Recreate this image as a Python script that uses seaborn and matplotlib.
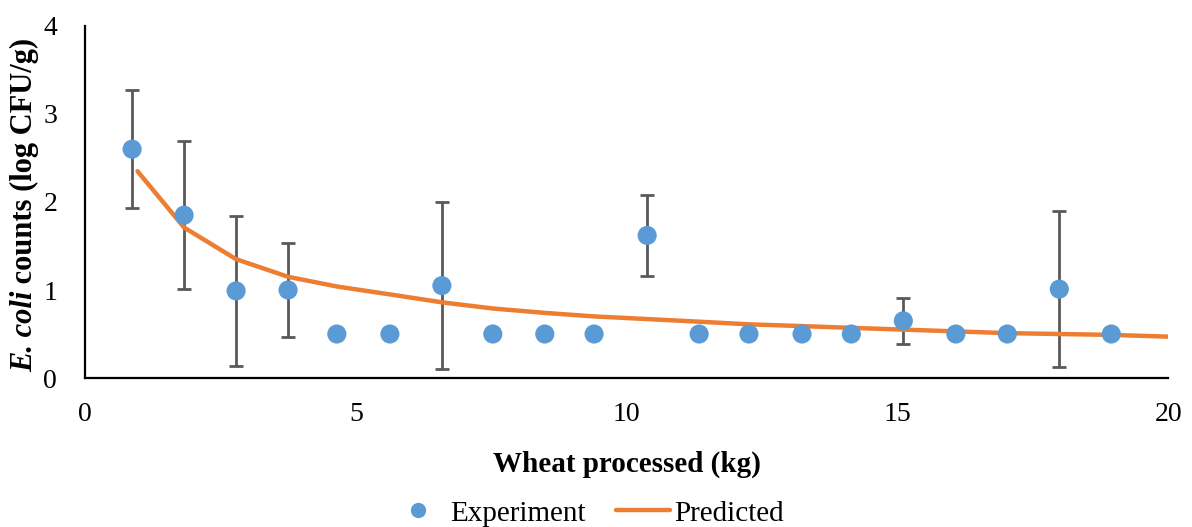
import matplotlib
matplotlib.use("Agg")
import matplotlib.pyplot as plt
from matplotlib.lines import Line2D
import seaborn as sns
import pandas as pd

# Measured E. coli counts at each sampling point
wheat_kg = [0.87, 1.83, 2.79, 3.75, 4.65, 5.63, 6.59, 7.53, 8.49, 9.40,
            10.38, 11.34, 12.26, 13.24, 14.15, 15.11, 16.08, 17.03, 17.99, 18.95]
ecoli_log = [2.60, 1.85, 0.99, 1.00, 0.50, 0.50, 1.05, 0.50, 0.50, 0.50,
             1.62, 0.50, 0.50, 0.50, 0.50, 0.65, 0.50, 0.50, 1.01, 0.50]
ecoli_err = [0.67, 0.84, 0.85, 0.53, 0.0, 0.0, 0.95, 0.0, 0.0, 0.0,
             0.46, 0.0, 0.0, 0.0, 0.0, 0.26, 0.0, 0.0, 0.89, 0.0]

# Model prediction
pred_kg = [0.97, 1.83, 2.79, 3.75, 4.65, 5.63, 6.59, 7.53, 8.49, 9.40, 10.38,
           11.34, 12.26, 13.24, 14.15, 15.11, 16.08, 17.03, 17.99, 18.95, 20.0]
pred_log = [2.35, 1.71, 1.35, 1.15, 1.04, 0.95, 0.86, 0.79, 0.74, 0.70, 0.67,
            0.64, 0.61, 0.59, 0.57, 0.55, 0.53, 0.51, 0.50, 0.49, 0.47]

x_ticks = [0, 5, 10, 15, 20]
y_ticks = [0, 1, 2, 3, 4]

BLUE = "#5B9BD5"
ORANGE = "#ED7D31"
GREY = "#595959"

sns.set_style("white")
plt.rcParams["font.family"] = ["Liberation Serif", "DejaVu Serif"]
plt.rcParams["text.color"] = "black"
plt.rcParams["axes.labelcolor"] = "black"

exp_df = pd.DataFrame({"x": wheat_kg, "y": ecoli_log, "err": ecoli_err})
pred_df = pd.DataFrame({"x": pred_kg, "y": pred_log})

W, H = 1192, 527
fig = plt.figure(figsize=(W / 100, H / 100), dpi=100)
ax = fig.add_axes([0.0713, 0.2827, 0.9087, 0.668])

# Error bars only where a spread was measured
eb = exp_df[exp_df["err"] > 0]
ax.errorbar(eb["x"], eb["y"], yerr=eb["err"], fmt="none", ecolor=GREY,
            elinewidth=2.0, capsize=4.8, capthick=2.0, zorder=2)

sns.lineplot(data=pred_df, x="x", y="y", ax=ax, color=ORANGE, linewidth=3.2,
             zorder=3, legend=False)
sns.scatterplot(data=exp_df, x="x", y="y", ax=ax, color=BLUE, s=190,
                edgecolor="none", zorder=4, legend=False)

ax.set_xlim(0, 20)
ax.set_ylim(0, 4)
ax.set_xticks(x_ticks)
ax.set_yticks(y_ticks)
ax.set_xticklabels([str(v) for v in x_ticks])
ax.set_yticklabels([str(v) for v in y_ticks])
ax.tick_params(axis="both", length=0, labelsize=20, colors="black")
ax.tick_params(axis="x", pad=17)
ax.tick_params(axis="y", pad=20)

for side in ["top", "right"]:
    ax.spines[side].set_visible(False)
for side in ["left", "bottom"]:
    ax.spines[side].set_color("black")
    ax.spines[side].set_linewidth(1.6)

ax.set_xlabel("Wheat processed (kg)", fontsize=21, fontweight="bold",
              labelpad=17)
ax.set_ylabel("")

# Vertical y label in two runs: italic species name, then the units
fig.canvas.draw()
renderer = fig.canvas.get_renderer()
y_label_x = 32 / W
label_kw = dict(rotation=90, fontsize=22, fontweight="bold", ha="left",
                va="baseline", rotation_mode="anchor")
part1 = fig.text(y_label_x, 0, "E. coli", fontstyle="italic", **label_kw)
part2 = fig.text(y_label_x, 0, " counts (log CFU/g)", **label_kw)
h1 = part1.get_window_extent(renderer).height
h2 = part2.get_window_extent(renderer).height
center_px = (0.2827 + 0.668 / 2) * H - 3
start_px = center_px - (h1 + h2) / 2
part1.set_position((y_label_x, start_px / H))
part2.set_position((y_label_x, (start_px + h1) / H))

handles = [
    Line2D([], [], linestyle="none", marker="o", markersize=11,
           markerfacecolor=BLUE, markeredgecolor="none", label="Experiment"),
    Line2D([], [], color=ORANGE, linewidth=3.2, label="Predicted"),
]
fig.legend(handles=handles, loc="center", bbox_to_anchor=(0.493, 0.026),
           ncol=2, frameon=False, fontsize=21, handlelength=1.85,
           columnspacing=1.05, handletextpad=0.15)

fig.savefig("out.png", dpi=100)
